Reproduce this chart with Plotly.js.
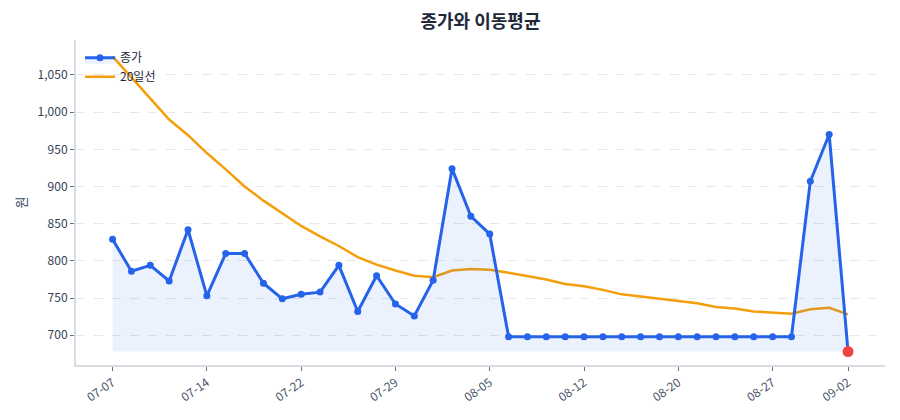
<!DOCTYPE html>
<html>
<head>
<meta charset="utf-8">
<script src="https://cdn.plot.ly/plotly-3.0.1.min.js"></script>
<style>
  html, body { margin: 0; padding: 0; background: #fff; }
  #myDiv { width: 900px; height: 420px; }
</style>
</head>
<body>
<div id="myDiv"></div>
<script>
var dates = ['07-07', '07-08', '07-09', '07-10', '07-11', '07-14', '07-15', '07-16', '07-18', '07-21',
             '07-22', '07-23', '07-24', '07-25', '07-28', '07-29', '07-30', '07-31', '08-01', '08-04',
             '08-05', '08-06', '08-07', '08-08', '08-11', '08-12', '08-13', '08-14', '08-18', '08-19',
             '08-20', '08-21', '08-22', '08-25', '08-26', '08-27', '08-28', '08-29', '09-01', '09-02'];

var close = [829, 786, 794, 773, 842, 753, 810, 810, 770, 749,
             755, 758, 794, 732, 780, 742, 726, 774, 924, 860,
             836, 698, 698, 698, 698, 698, 698, 698, 698, 698,
             698, 698, 698, 698, 698, 698, 698, 907, 970, 678];

var ma20 = [1075, 1047, 1018, 990, 969, 945, 923, 900, 881, 864,
            847, 833, 820, 805, 795, 787, 780, 778, 787, 789,
            788, 784, 780, 775, 769, 766, 761, 755, 752, 749,
            746, 743, 738, 736, 732, 730, 729, 735, 737, 728];

var tickDates = ['07-07', '07-14', '07-22', '07-29', '08-05', '08-12', '08-20', '08-27', '09-02'];

var font = 'Noto Sans CJK KR, Noto Sans, sans-serif';

// shade down to the lowest close
var low = Math.min.apply(null, close);
var base = dates.map(function () { return low; });
var last = dates.length - 1;

var maTrace = {
  x: dates, y: ma20,
  name: '20일선',
  type: 'scatter', mode: 'lines',
  line: {color: '#f59e0b', width: 2.5},
  legendrank: 2,
  hoverinfo: 'skip'
};

var baseTrace = {
  x: dates, y: base,
  type: 'scatter', mode: 'lines',
  line: {width: 0, color: 'rgba(0,0,0,0)'},
  showlegend: false,
  hoverinfo: 'skip'
};

var closeTrace = {
  x: dates, y: close,
  name: '종가',
  type: 'scatter', mode: 'lines+markers',
  line: {color: '#2563eb', width: 3},
  marker: {color: '#2563eb', size: 7},
  fill: 'tonexty',
  fillcolor: 'rgba(37,99,235,0.09)',
  legendrank: 1
};

var lastTrace = {
  x: [dates[last]], y: [close[last]],
  type: 'scatter', mode: 'markers',
  marker: {color: '#ef4444', size: 11},
  showlegend: false
};

var data = [maTrace, baseTrace, closeTrace, lastTrace];

var layout = {
  width: 900, height: 420,
  margin: {l: 76, r: 15, t: 40, b: 55},
  paper_bgcolor: '#fff',
  plot_bgcolor: '#fff',
  font: {family: font, size: 12, color: '#334155'},
  title: {
    text: '<b>종가와 이동평균</b>',
    x: 0.5, xref: 'paper', y: 0.963, yref: 'container',
    font: {family: font, size: 18, color: '#1e293b'}
  },
  showlegend: true,
  legend: {
    x: 0.005, y: 0.99, xanchor: 'left', yanchor: 'top',
    traceorder: 'normal',
    bgcolor: 'rgba(255,255,255,0)',
    font: {family: font, size: 12, color: '#1e293b'},
    tracegroupgap: 0
  },
  xaxis: {
    type: 'category',
    range: [-1.94, 40.96],
    tickmode: 'array',
    tickvals: tickDates,
    ticktext: tickDates,
    tickangle: -35,
    ticks: 'outside', ticklen: 4, tickcolor: '#6b7280',
    showgrid: false,
    showline: true, linecolor: '#d8dce3', linewidth: 2,
    zeroline: false,
    tickfont: {size: 12, color: '#475569'}
  },
  yaxis: {
    title: {text: '원', font: {size: 13, color: '#334155'}, standoff: 8},
    range: [660, 1097],
    dtick: 50,
    tickformat: ',d',
    ticks: 'outside', ticklen: 4, tickcolor: '#6b7280',
    showgrid: true, gridcolor: '#e5e7eb', griddash: 'dash', gridwidth: 1,
    showline: true, linecolor: '#d8dce3', linewidth: 2,
    zeroline: false,
    tickfont: {size: 12, color: '#334155'}
  }
};

Plotly.newPlot('myDiv', data, layout, {displayModeBar: false});
</script>
</body>
</html>
